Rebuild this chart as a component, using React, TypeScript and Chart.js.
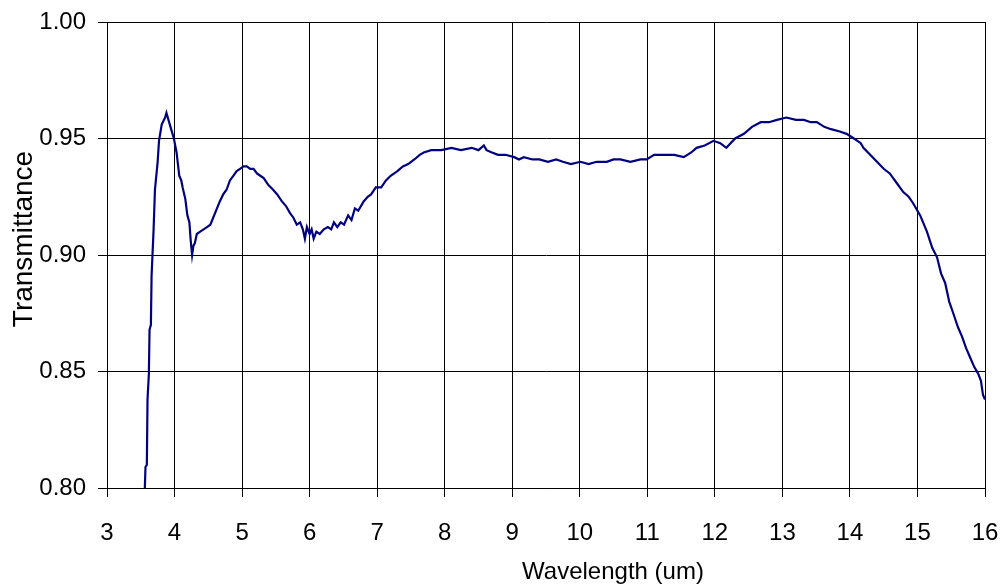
import React, { useEffect, useRef } from "react";
import { Chart, registerables } from "chart.js";

Chart.register(...registerables);

const wavelength = [
  3.56, 3.57, 3.59, 3.60, 3.62, 3.63, 3.65, 3.66, 3.69, 3.71, 3.75, 3.77, 3.81, 3.86, 3.88, 3.91,
  3.94, 3.99, 4.03, 4.07, 4.10, 4.12, 4.16, 4.19, 4.22, 4.24, 4.26, 4.28, 4.30, 4.33, 4.38, 4.43,
  4.48, 4.53, 4.60, 4.67, 4.72, 4.77, 4.82, 4.87, 4.92, 4.97, 5.02, 5.07, 5.12, 5.17, 5.22, 5.27,
  5.32, 5.39, 5.46, 5.52, 5.59, 5.65, 5.71, 5.76, 5.81, 5.86, 5.90, 5.93, 5.96, 6.00, 6.03, 6.06,
  6.10, 6.15, 6.21, 6.27, 6.32, 6.36, 6.41, 6.46, 6.51, 6.57, 6.62, 6.67, 6.72, 6.80, 6.86, 6.91,
  6.98, 7.06, 7.13, 7.20, 7.30, 7.38, 7.46, 7.55, 7.63, 7.69, 7.80, 7.95, 8.10, 8.24, 8.40, 8.50,
  8.58, 8.62, 8.70, 8.79, 8.90, 9.03, 9.10, 9.17, 9.30, 9.40, 9.53, 9.65, 9.75, 9.87, 10.01, 10.13,
  10.25, 10.40, 10.50, 10.60, 10.75, 10.90, 10.99, 11.10, 11.24, 11.40, 11.54, 11.65, 11.73, 11.85,
  11.98, 12.08, 12.17, 12.30, 12.43, 12.55, 12.68, 12.80, 12.92, 13.06, 13.20, 13.32, 13.42, 13.51,
  13.62, 13.72, 13.85, 13.95, 14.06, 14.16, 14.20, 14.30, 14.40, 14.50, 14.59, 14.69, 14.79, 14.87,
  14.94, 15.04, 15.14, 15.22, 15.29, 15.35, 15.41, 15.47, 15.53, 15.60, 15.66, 15.72, 15.78, 15.84,
  15.90, 15.94, 15.97, 16.00,
];

const transmittance = [
  0.800, 0.809, 0.810, 0.838, 0.849, 0.868, 0.870, 0.891, 0.911, 0.928, 0.940, 0.949, 0.956, 0.959, 0.961, 0.958,
  0.955, 0.950, 0.944, 0.934, 0.932, 0.929, 0.924, 0.917, 0.914, 0.906, 0.900, 0.904, 0.905, 0.909, 0.910, 0.911,
  0.912, 0.913, 0.918, 0.923, 0.926, 0.928, 0.932, 0.934, 0.936, 0.937, 0.938, 0.938, 0.937, 0.937, 0.935, 0.934,
  0.933, 0.930, 0.928, 0.926, 0.923, 0.921, 0.918, 0.916, 0.913, 0.914, 0.911, 0.907, 0.912, 0.909, 0.911, 0.907,
  0.910, 0.909, 0.911, 0.912, 0.911, 0.914, 0.912, 0.914, 0.913, 0.917, 0.915, 0.920, 0.919, 0.923, 0.925, 0.926,
  0.929, 0.929, 0.932, 0.934, 0.936, 0.938, 0.939, 0.941, 0.943, 0.944, 0.945, 0.945, 0.946, 0.945, 0.946, 0.945,
  0.947, 0.945, 0.944, 0.943, 0.943, 0.942, 0.941, 0.942, 0.941, 0.941, 0.940, 0.941, 0.940, 0.939, 0.940, 0.939,
  0.940, 0.940, 0.941, 0.941, 0.940, 0.941, 0.941, 0.943, 0.943, 0.943, 0.942, 0.944, 0.946, 0.947,
  0.949, 0.948, 0.946, 0.950, 0.952, 0.955, 0.957, 0.957, 0.958, 0.959, 0.958, 0.958, 0.957, 0.957,
  0.955, 0.954, 0.953, 0.952, 0.950, 0.948, 0.946, 0.943, 0.940, 0.937, 0.935, 0.931, 0.927, 0.925,
  0.922, 0.917, 0.910, 0.903, 0.899, 0.892, 0.888, 0.880, 0.875, 0.869, 0.865, 0.860, 0.856, 0.852,
  0.849, 0.846, 0.840, 0.838,
];

const xTitle = "Wavelength (um)";
const yTitle = "Transmittance";
const xMin = 3;
const xMax = 16;
const yMin = 0.8;
const yMax = 1.0;

const FONT = "'Liberation Sans', Arial, sans-serif";

const titlesPlugin = {
  id: "customTitles",
  afterDraw(chart: any) {
    const ctx = chart.ctx;
    ctx.save();
    ctx.fillStyle = "#000";
    ctx.textAlign = "center";
    ctx.textBaseline = "alphabetic";
    ctx.font = `24px ${FONT}`;
    ctx.fillText(xTitle, 613, 579);
    ctx.translate(32, 239);
    ctx.rotate(-Math.PI / 2);
    ctx.font = `28px ${FONT}`;
    ctx.fillText(yTitle, 0, 0);
    ctx.restore();
  },
};

export default function App() {
  const ref = useRef<HTMLCanvasElement | null>(null);

  useEffect(() => {
    if (!ref.current) return;
    const data = wavelength.map((w, i) => ({ x: w, y: transmittance[i] }));
    const chart = new Chart(ref.current, {
      type: "scatter",
      data: {
        datasets: [
          {
            data,
            showLine: true,
            borderColor: "#000080",
            backgroundColor: "#000080",
            borderWidth: 2.2,
            pointRadius: 0,
            tension: 0,
          },
        ],
      },
      plugins: [titlesPlugin],
      options: {
        animation: false,
        responsive: true,
        maintainAspectRatio: false,
        layout: { padding: { top: 22, right: 18, left: 0, bottom: 0 } },
        plugins: {
          legend: { display: false },
          tooltip: { enabled: false },
        },
        scales: {
          x: {
            type: "linear",
            min: xMin,
            max: xMax,
            afterFit: (s: any) => {
              s.height = 99;
              s.paddingLeft = 0;
              s.paddingRight = 0;
            },
            ticks: {
              stepSize: 1,
              color: "#000",
              padding: 22,
              maxRotation: 0,
              font: { size: 24, family: FONT },
            },
            grid: { color: "#000", lineWidth: 1, tickLength: 9, drawTicks: true },
            border: { color: "#000", width: 1 },
          },
          y: {
            type: "linear",
            min: yMin,
            max: yMax,
            afterFit: (s: any) => {
              s.width = 107;
              s.paddingTop = 0;
              s.paddingBottom = 0;
            },
            ticks: {
              stepSize: 0.05,
              color: "#000",
              padding: 12,
              font: { size: 24, family: FONT },
              callback: (v: any) => Number(v).toFixed(2),
            },
            grid: { color: "#000", lineWidth: 1, tickLength: 9, drawTicks: true },
            border: { color: "#000", width: 1 },
          },
        },
      },
    });
    return () => chart.destroy();
  }, []);

  return (
    <div style={{ position: "absolute", left: 0, top: 0, width: 1003, height: 587, background: "#fff" }}>
      <canvas ref={ref} />
    </div>
  );
}
